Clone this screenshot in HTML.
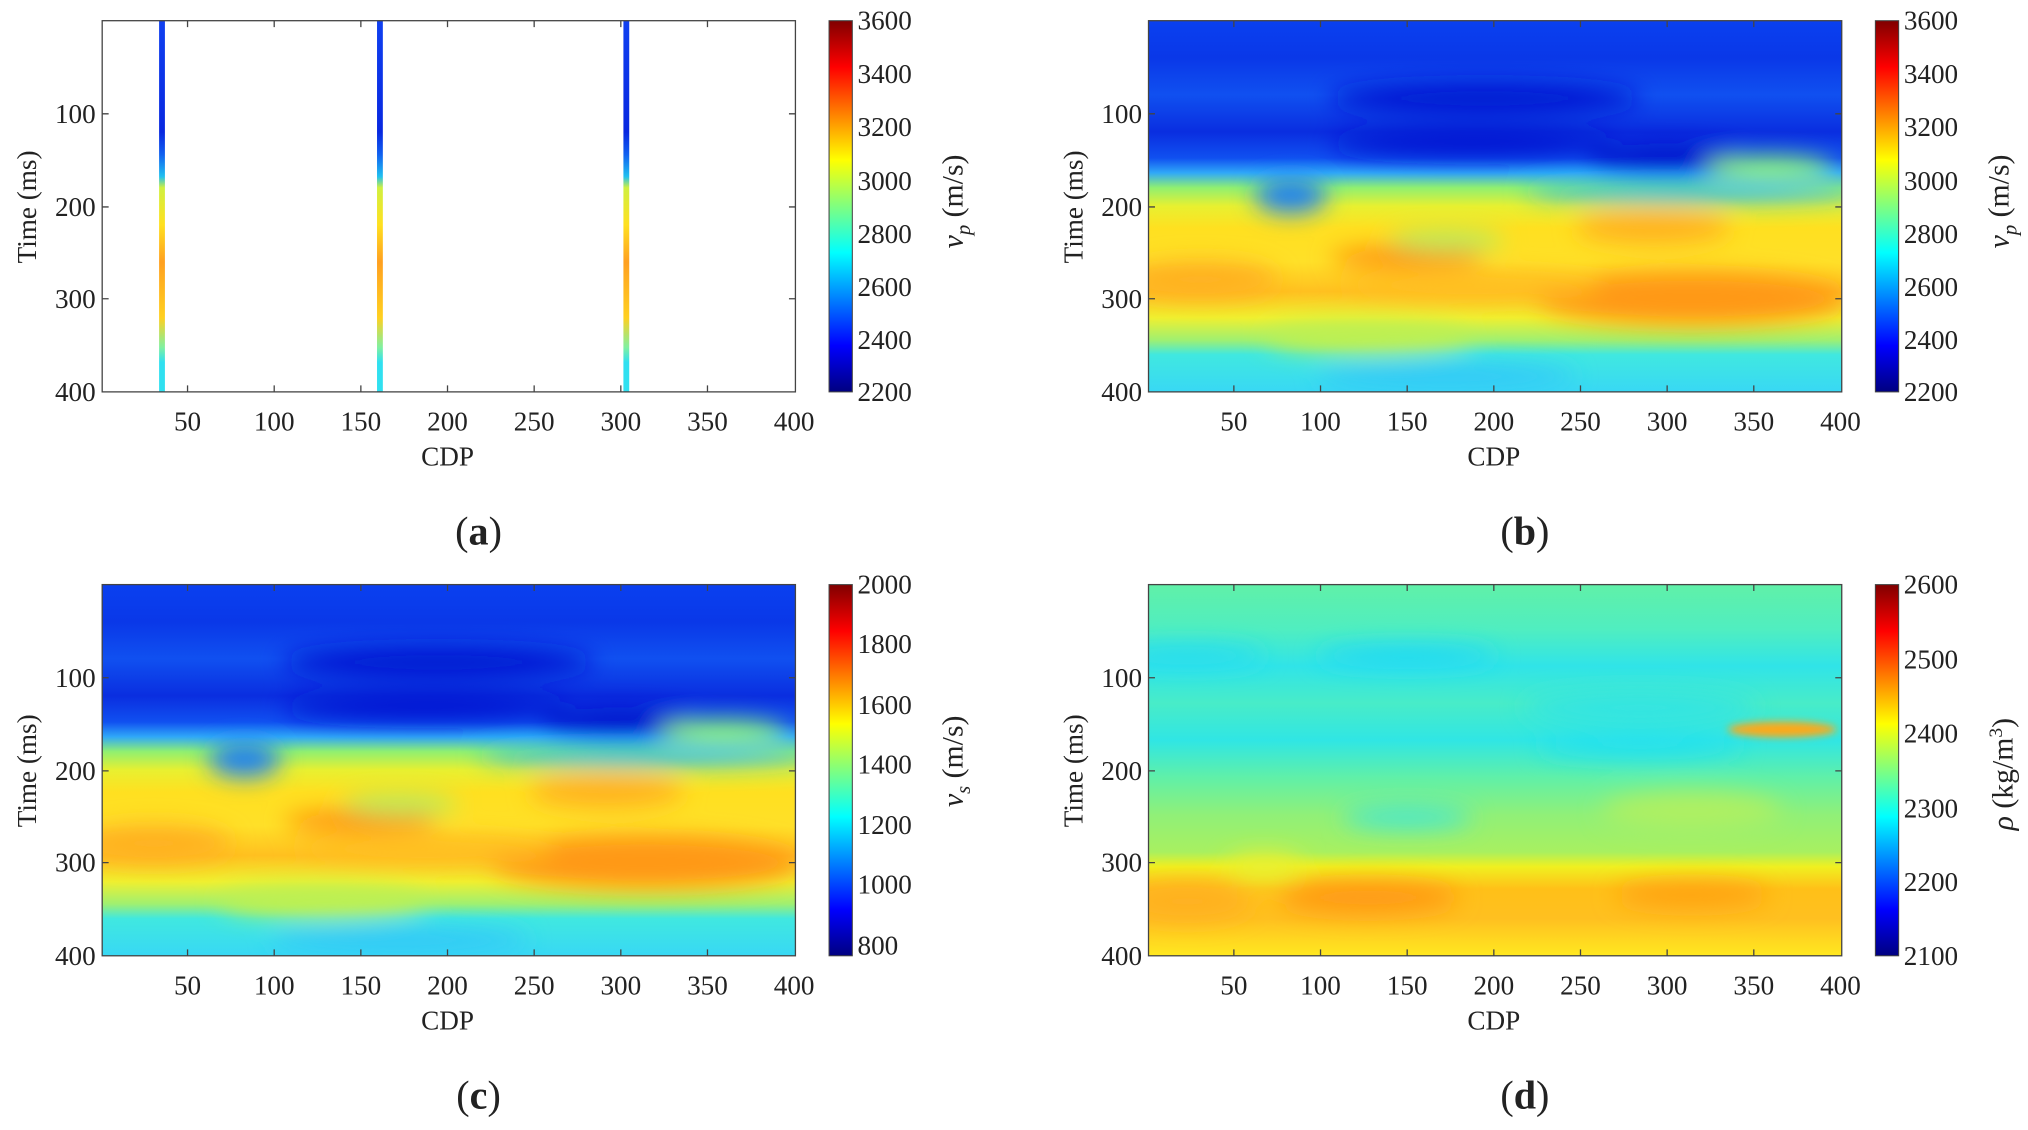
<!DOCTYPE html>
<html><head><meta charset="utf-8"><style>
html,body{margin:0;padding:0;background:#fff;}
svg{display:block;}
text{font-family:"Liberation Serif",serif;fill:#222;}
</style></head><body>
<svg width="2028" height="1130" viewBox="0 0 1568 873.7" xmlns="http://www.w3.org/2000/svg">
<defs>
<linearGradient id="jet" x1="0" y1="0" x2="0" y2="1">
<stop offset="0" stop-color="#800000"/><stop offset="0.125" stop-color="#ff0000"/>
<stop offset="0.375" stop-color="#ffff00"/><stop offset="0.625" stop-color="#00ffff"/>
<stop offset="0.875" stop-color="#0000ff"/><stop offset="1" stop-color="#000080"/>
</linearGradient>
<linearGradient id="gb" x1="0" y1="0" x2="0" y2="1">
<stop offset="0" stop-color="#0a40f0"/><stop offset="0.1" stop-color="#0a38e8"/>
<stop offset="0.2" stop-color="#1050f0"/><stop offset="0.3" stop-color="#0a2ee0"/>
<stop offset="0.37" stop-color="#1050f0"/><stop offset="0.41" stop-color="#30a8f8"/>
<stop offset="0.45" stop-color="#90f070"/><stop offset="0.5" stop-color="#e8f030"/>
<stop offset="0.56" stop-color="#ffe020"/><stop offset="0.65" stop-color="#ffe028"/>
<stop offset="0.73" stop-color="#ffc020"/><stop offset="0.8" stop-color="#f0f030"/>
<stop offset="0.86" stop-color="#a0f070"/><stop offset="0.9" stop-color="#40e8e0"/>
<stop offset="1" stop-color="#38d8f4"/>
</linearGradient>
<linearGradient id="gd" x1="0" y1="0" x2="0" y2="1">
<stop offset="0" stop-color="#60f0a8"/><stop offset="0.12" stop-color="#50eec0"/>
<stop offset="0.22" stop-color="#30e4e8"/><stop offset="0.32" stop-color="#48ecc8"/>
<stop offset="0.42" stop-color="#30e6e4"/><stop offset="0.52" stop-color="#60f0a8"/>
<stop offset="0.62" stop-color="#90f078"/><stop offset="0.72" stop-color="#a8f060"/>
<stop offset="0.76" stop-color="#f0f020"/><stop offset="0.82" stop-color="#ffc018"/>
<stop offset="0.9" stop-color="#ffc020"/><stop offset="1" stop-color="#ffe820"/>
</linearGradient>
<linearGradient id="well" x1="0" y1="0" x2="0" y2="1">
<stop offset="0" stop-color="#1040f0"/><stop offset="0.3" stop-color="#0828e0"/>
<stop offset="0.36" stop-color="#1060f0"/><stop offset="0.42" stop-color="#20c0f0"/>
<stop offset="0.45" stop-color="#d0f040"/><stop offset="0.55" stop-color="#ffe020"/>
<stop offset="0.65" stop-color="#ffa020"/><stop offset="0.8" stop-color="#ffd020"/>
<stop offset="0.88" stop-color="#80f0a0"/><stop offset="0.92" stop-color="#30e0f0"/>
<stop offset="1" stop-color="#30e0f0"/>
</linearGradient>
<filter id="bl" x="-50%" y="-50%" width="200%" height="200%"><feGaussianBlur stdDeviation="9"/></filter>
<clipPath id="cp"><rect x="0" y="0" width="536" height="287"/></clipPath>
<g id="hb">
<rect width="536" height="287" fill="url(#gb)"/>
<g filter="url(#bl)">
<ellipse cx="260" cy="60" rx="120" ry="12" fill="#0018d0"/>
<ellipse cx="250" cy="95" rx="110" ry="10" fill="#0018d0"/>
<ellipse cx="400" cy="105" rx="60" ry="10" fill="#0010c8"/>
<ellipse cx="480" cy="115" rx="50" ry="10" fill="#90f070"/>
<ellipse cx="420" cy="132" rx="130" ry="7" fill="#20b0f8"/>
<ellipse cx="110" cy="135" rx="28" ry="14" fill="#2080f0"/>
<ellipse cx="40" cy="200" rx="60" ry="14" fill="#ffb020"/>
<ellipse cx="200" cy="183" rx="60" ry="8" fill="#ff8a10"/>
<ellipse cx="230" cy="170" rx="45" ry="8" fill="#b0f060"/>
<ellipse cx="390" cy="160" rx="60" ry="12" fill="#ffb020"/>
<ellipse cx="420" cy="215" rx="120" ry="20" fill="#ff9818"/>
<ellipse cx="250" cy="205" rx="100" ry="10" fill="#ffc020"/>
<ellipse cx="230" cy="275" rx="100" ry="10" fill="#30c8f8"/>
<ellipse cx="170" cy="245" rx="80" ry="12" fill="#c0f050"/>
</g></g>
<g id="hd">
<rect width="536" height="287" fill="url(#gd)"/>
<g filter="url(#bl)">
<ellipse cx="200" cy="55" rx="70" ry="8" fill="#20d8f4"/>
<ellipse cx="30" cy="55" rx="60" ry="8" fill="#28dcf0"/>
<ellipse cx="380" cy="95" rx="90" ry="12" fill="#30e4e4"/>
<ellipse cx="380" cy="125" rx="80" ry="8" fill="#20e0f0"/>
<ellipse cx="420" cy="175" rx="70" ry="14" fill="#b0f060"/>
<ellipse cx="200" cy="180" rx="50" ry="8" fill="#40e6d8"/>
<ellipse cx="170" cy="242" rx="70" ry="12" fill="#ff9818"/>
<ellipse cx="420" cy="240" rx="60" ry="10" fill="#ffa018"/>
<ellipse cx="30" cy="245" rx="50" ry="14" fill="#ffb020"/>
<ellipse cx="90" cy="218" rx="30" ry="10" fill="#e8f030"/>
</g>
<ellipse cx="490" cy="112" rx="42" ry="6" fill="#ffa818" filter="url(#sb)"/>
</g>
<filter id="sb" x="-50%" y="-100%" width="200%" height="300%"><feGaussianBlur stdDeviation="3"/></filter>
</defs>

<g transform="translate(79,16)">
<rect x="44" y="0" width="4.5" height="287" fill="url(#well)"/>
<rect x="212.5" y="0" width="4.5" height="287" fill="url(#well)"/>
<rect x="403" y="0" width="4.5" height="287" fill="url(#well)"/>
</g>
<g transform="translate(888,16)" clip-path="url(#cp)"><use href="#hb"/></g>
<g transform="translate(79,452)" clip-path="url(#cp)"><use href="#hb"/></g>
<g transform="translate(888,452)" clip-path="url(#cp)"><use href="#hd"/></g>

<g id="ax" fill="none" stroke="#444" stroke-width="1">
<rect x="79" y="16" width="536" height="287"/>
<path d="M145,303v-5M212,303v-5M279,303v-5M346,303v-5M413,303v-5M480,303v-5M547,303v-5M145,16v5M212,16v5M279,16v5M346,16v5M413,16v5M480,16v5M547,16v5M79,88h5M79,160h5M79,231h5M615,88h-5M615,160h-5M615,231h-5"/>
</g>
<use href="#ax" transform="translate(809,0)"/>
<use href="#ax" transform="translate(0,436)"/>
<use href="#ax" transform="translate(809,436)"/>

<rect x="641" y="16" width="18" height="287" fill="url(#jet)" stroke="#444" stroke-width="0.8"/>
<rect x="1450" y="16" width="18" height="287" fill="url(#jet)" stroke="#444" stroke-width="0.8"/>
<rect x="641" y="452" width="18" height="287" fill="url(#jet)" stroke="#444" stroke-width="0.8"/>
<rect x="1450" y="452" width="18" height="287" fill="url(#jet)" stroke="#444" stroke-width="0.8"/>

<g id="tl" font-size="21">
<g text-anchor="end"><text x="74" y="95">100</text><text x="74" y="167">200</text><text x="74" y="238">300</text><text x="74" y="310">400</text></g>
<g text-anchor="middle"><text x="145" y="333">50</text><text x="212" y="333">100</text><text x="279" y="333">150</text><text x="346" y="333">200</text><text x="413" y="333">250</text><text x="480" y="333">300</text><text x="547" y="333">350</text><text x="614" y="333">400</text>
<text x="346" y="360">CDP</text>
<text transform="translate(28,160) rotate(-90)">Time (ms)</text></g>
</g>
<use href="#tl" transform="translate(809,0)"/>
<use href="#tl" transform="translate(0,436)"/>
<use href="#tl" transform="translate(809,436)"/>

<g font-size="21">
<g id="cbv"><text x="663" y="23">3600</text><text x="663" y="64">3400</text><text x="663" y="105">3200</text><text x="663" y="147">3000</text><text x="663" y="188">2800</text><text x="663" y="229">2600</text><text x="663" y="270">2400</text><text x="663" y="310">2200</text></g>
<use href="#cbv" transform="translate(809,0)"/>
<text x="663" y="459">2000</text><text x="663" y="505">1800</text><text x="663" y="552">1600</text><text x="663" y="598">1400</text><text x="663" y="645">1200</text><text x="663" y="691">1000</text><text x="663" y="738">800</text>
<text x="1472" y="459">2600</text><text x="1472" y="517">2500</text><text x="1472" y="574">2400</text><text x="1472" y="632">2300</text><text x="1472" y="689">2200</text><text x="1472" y="746">2100</text>
</g>
<g font-size="23">
<text transform="translate(744,192) rotate(-90)"><tspan font-style="italic">v</tspan><tspan font-style="italic" font-size="16" dy="6">p</tspan><tspan dy="-6"> (m/s)</tspan></text>
<text transform="translate(1553,192) rotate(-90)"><tspan font-style="italic">v</tspan><tspan font-style="italic" font-size="16" dy="6">p</tspan><tspan dy="-6"> (m/s)</tspan></text>
<text transform="translate(744,624) rotate(-90)"><tspan font-style="italic">v</tspan><tspan font-style="italic" font-size="16" dy="6">s</tspan><tspan dy="-6"> (m/s)</tspan></text>
<text transform="translate(1556,642) rotate(-90)"><tspan font-style="italic">ρ</tspan><tspan> (kg/m</tspan><tspan font-size="15" dy="-8">3</tspan><tspan dy="8">)</tspan></text>
</g>
<g font-size="31" text-anchor="middle">
<text x="370" y="421">(<tspan font-weight="bold">a</tspan>)</text>
<text x="1179" y="421">(<tspan font-weight="bold">b</tspan>)</text>
<text x="370" y="857">(<tspan font-weight="bold">c</tspan>)</text>
<text x="1179" y="857">(<tspan font-weight="bold">d</tspan>)</text>
</g>
</svg>
</body></html>
